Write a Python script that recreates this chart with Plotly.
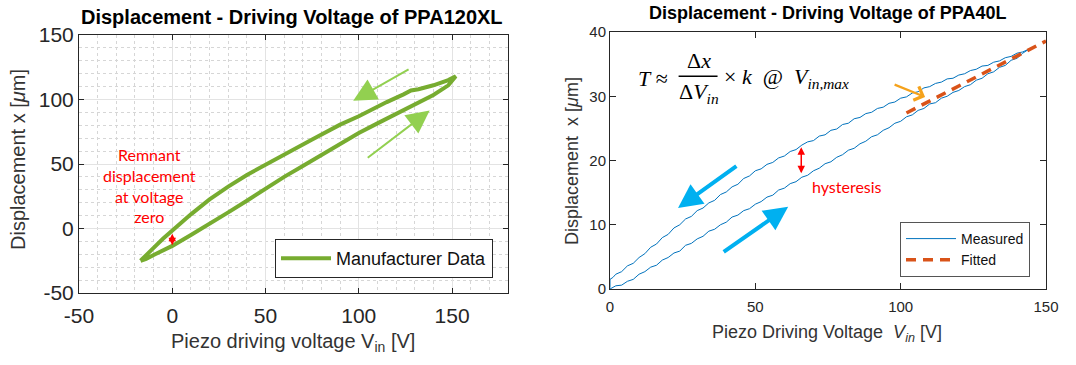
import plotly.graph_objects as go

W, H = 1076, 365

# ---------------- Left chart: PPA120XL (manufacturer data) ----------------
# ascending branch (lower part of the loop)
left_asc_v = [-17, -14, -10, -5, 0, 10, 20, 30, 40, 50, 60, 70, 80, 90, 100, 110, 120, 130, 140, 148, 152]
left_asc_x = [-25, -23.5, -20.5, -17, -13.5, -5, 3.5, 12.5, 21.5, 31, 40, 48.5, 57, 65.5, 74, 81.5, 89, 96, 103.5, 111, 118]
# descending branch (upper part of the loop)
left_desc_v = [152, 148, 140, 132, 128, 124, 115, 100, 90, 75, 60, 50, 40, 30, 20, 10, 5, 0, -5, -10, -14, -17]
left_desc_x = [118, 115, 111, 108, 107, 104, 98, 87, 80.5, 69, 57.5, 50, 41.5, 32.5, 22.5, 11, 5, -1.5, -8, -15, -21, -25]

left_xticks = [-50, 0, 50, 100, 150]
left_xticklabels = ["-50", "0", "50", "100", "150"]
left_yticks = [-50, 0, 50, 100, 150]
left_yticklabels = ["-50", "0", "50", "100", "150"]

# ---------------- Right chart: PPA40L (measured + fitted) ----------------
meas_asc_v = [0, 2, 4, 6, 8, 10, 12, 14, 16, 18, 20, 22, 24, 26, 28, 30, 32, 34, 36, 38, 40,
              42, 44, 46, 48, 50, 52, 54, 56, 58, 60, 62, 64, 66, 68, 70, 72, 74, 76, 78, 80,
              82, 84, 86, 88, 90, 92, 94, 96, 98, 100, 102, 104, 106, 108, 110, 112, 114, 116, 118, 120,
              122, 124, 126, 128, 130, 132, 134, 136, 138, 140, 142, 144]
meas_asc_x = [0.0, 0.5, 0.6, 1.2, 1.5, 2.3, 2.7, 3.4, 3.7, 4.5, 4.9, 5.6, 5.9, 6.8, 7.1, 7.8, 8.2, 9.0, 9.3, 10.0, 10.4,
              11.2, 11.5, 12.2, 12.5, 13.2, 13.6, 14.3, 14.6, 15.4, 15.7, 16.4, 16.7, 17.4, 17.7, 18.4, 18.8, 19.5, 19.8, 20.5, 20.9,
              21.6, 21.9, 22.6, 23.0, 23.7, 24.0, 24.7, 25.1, 25.8, 26.1, 26.8, 27.1, 27.8, 28.1, 28.8, 29.0, 29.7, 30.0, 30.6, 30.9,
              31.5, 31.8, 32.5, 32.8, 33.5, 33.8, 34.5, 34.8, 35.6, 35.9, 36.7, 37.3]
meas_desc_v = [144, 142, 140, 138, 136, 134, 132, 130, 128, 126, 124, 122, 120, 118, 116, 114, 112, 110, 108, 106, 104,
               102, 100, 98, 96, 94, 92, 90, 88, 86, 84, 82, 80, 78, 76, 74, 72, 70, 68, 66, 64,
               62, 60, 58, 56, 54, 52, 50, 48, 46, 44, 42, 40, 38, 36, 34, 32, 30, 28, 26, 24,
               22, 20, 18, 16, 14, 12, 10, 8, 6, 4, 2, 1, 0, 0]
meas_desc_x = [37.3, 36.9, 36.7, 36.2, 36.0, 35.5, 35.3, 34.8, 34.7, 34.2, 34.0, 33.5, 33.3, 32.8, 32.7, 32.2, 32.0, 31.5, 31.3, 30.7, 30.5,
               29.9, 29.7, 29.1, 28.9, 28.3, 28.1, 27.5, 27.3, 26.7, 26.5, 25.8, 25.6, 24.9, 24.7, 24.0, 23.8, 23.1, 22.9, 22.4, 21.7,
               21.4, 20.7, 20.4, 19.7, 19.4, 18.7, 18.4, 17.6, 17.2, 16.3, 15.9, 15.1, 14.7, 13.8, 13.4, 12.6, 12.2, 11.3, 10.9, 10.0,
               9.5, 8.5, 8.0, 7.0, 6.5, 5.5, 4.9, 4.0, 3.6, 2.7, 2.3, 1.8, 1.5, 0.2]
fit_v = [102, 150]
fit_x = [27.4, 38.6]

right_xticks = [0, 50, 100, 150]
right_yticks = [0, 10, 20, 30, 40]

# ---------------- geometry helpers ----------------
def px(x):
    return x / W


def py(y):
    return 1 - y / H


AX = "#262626"
SANS = "Liberation Sans"

fig = go.Figure()

fig.add_trace(go.Scatter(
    x=left_asc_v + left_desc_v, y=left_asc_x + left_desc_x,
    mode="lines", name="Manufacturer Data",
    line=dict(color="#77AC30", width=4), xaxis="x", yaxis="y", legend="legend",
))
fig.add_trace(go.Scatter(
    x=meas_asc_v + meas_desc_v, y=meas_asc_x + meas_desc_x,
    mode="lines", name="Measured",
    line=dict(color="#0072BD", width=1), xaxis="x2", yaxis="y2", legend="legend2",
))
fig.add_trace(go.Scatter(
    x=fit_v, y=fit_x, mode="lines", name="Fitted",
    line=dict(color="#D95319", width=3.5, dash="10px,7px"), xaxis="x2", yaxis="y2", legend="legend2",
))

common_axis = dict(showline=True, mirror="ticks", linecolor=AX, linewidth=1,
                   ticks="inside", tickcolor=AX, zeroline=False, automargin=False)

fig.update_layout(
    width=W, height=H, margin=dict(l=0, r=0, t=0, b=0, pad=0, autoexpand=False),
    paper_bgcolor="white", plot_bgcolor="white",
    font=dict(family=SANS, color=AX),
    xaxis=dict(domain=[px(79), px(508)], range=[-50, 180], anchor="y",
               tickmode="array", tickvals=left_xticks, ticktext=left_xticklabels,
               ticklen=5, tickfont=dict(size=21, color=AX), ticklabelstandoff=4,
               showgrid=True, gridcolor="#e3e3e3", gridwidth=1,
               minor=dict(tick0=-50, dtick=10, showgrid=True, gridcolor="#d6d6d6", griddash="dot", ticks=""),
               **common_axis),
    yaxis=dict(domain=[py(293), py(35)], range=[-50, 150], anchor="x",
               tickmode="array", tickvals=left_yticks, ticktext=left_yticklabels,
               ticklen=5, tickfont=dict(size=21, color=AX),
               showgrid=True, gridcolor="#e3e3e3", gridwidth=1,
               minor=dict(tick0=-50, dtick=10, showgrid=True, gridcolor="#d6d6d6", griddash="dot", ticks=""),
               **common_axis),
    xaxis2=dict(domain=[px(610), px(1046)], range=[0, 150], anchor="y2",
                tickmode="array", tickvals=right_xticks,
                ticklen=6, tickfont=dict(size=15, color=AX), ticklabelstandoff=4, showgrid=False,
                **common_axis),
    yaxis2=dict(domain=[py(289), py(32)], range=[0, 40], anchor="x2",
                tickmode="array", tickvals=right_yticks,
                ticklen=6, tickfont=dict(size=15, color=AX), showgrid=False,
                **common_axis),
    legend=dict(x=px(493), y=py(278), xanchor="right", yanchor="bottom",
                bgcolor="white", bordercolor=AX, borderwidth=1,
                font=dict(size=18, color="#111"), itemwidth=50),
    legend2=dict(x=px(1030), y=py(277), xanchor="right", yanchor="bottom",
                 bgcolor="white", bordercolor="#555", borderwidth=1,
                 font=dict(size=14, color="#111"), tracegroupgap=0, itemwidth=50),
    showlegend=True,
)

ann = []


def text_ann(text, x, y, size, color, xref="paper", yref="paper", xanchor="center",
             family=SANS, angle=0):
    return dict(text=text, x=x, y=y, xref=xref, yref=yref, xanchor=xanchor, yanchor="middle",
                showarrow=False, textangle=angle, font=dict(family=family, size=size, color=color))


def arrow_ann(x, y, ax, ay, xr, yr, color, width, size, head=2, both=False):
    d = dict(x=x, y=y, ax=ax, ay=ay, xref=xr, yref=yr, axref=xr, ayref=yr, text="",
             showarrow=True, arrowhead=head, arrowsize=size, arrowwidth=width, arrowcolor=color,
             standoff=0)
    if both:
        d.update(arrowside="end+start", startarrowhead=head, startarrowsize=size, startstandoff=0)
    return d


# titles
ann.append(text_ann("<b>Displacement - Driving Voltage of PPA120XL</b>", px(292), py(17), 20, "#000"))
ann.append(text_ann("<b>Displacement - Driving Voltage of PPA40L</b>", px(827), py(13), 18, "#000"))
# axis titles
ann.append(text_ann("Piezo driving voltage V<sub>in</sub> [V]", px(293), py(342), 20, "#333"))
ann.append(text_ann("Displacement x [<i>μ</i>m]", px(18), py(160), 20, "#333", angle=-90))
ann.append(text_ann("Piezo Driving Voltage &nbsp;<i>V</i><sub><i>in</i></sub> [V]", px(827), py(333), 18, "#333"))
ann.append(text_ann("Displacement &nbsp;x [<i>μ</i>m]", px(572), py(161), 18, "#333", angle=-90))

# left annotations
ann.append(text_ann("Remnant<br>displacement<br>at voltage<br>zero", -12, 33, 16, "#FF0000",
                    xref="x", yref="y", family="Lato"))
ann.append(arrow_ann(0, -13, 0, -3, "x", "y", "#FF0000", 1.5, 1, both=True))
ann.append(arrow_ann(97, 99, 127.5, 124, "x", "y", "#92D050", 2, 2.3))
ann.append(arrow_ann(138, 91.5, 104, 54, "x", "y", "#92D050", 2, 2.3))

# right annotations
ann.append(arrow_ann(23.4, 12.6, 44, 19.3, "x2", "y2", "#00B0F0", 4, 1.2))
ann.append(arrow_ann(61.3, 12.8, 38.6, 5.6, "x2", "y2", "#00B0F0", 4, 1.2))
ann.append(arrow_ann(108.4, 29.9, 97.4, 31.9, "x2", "y2", "#F5A21B", 2.2, 1.3, head=4))
ann.append(arrow_ann(65.8, 18.0, 65.8, 22.3, "x2", "y2", "#FF0000", 1.5, 1, both=True))
ann.append(text_ann("hysteresis", 81.5, 15.9, 16, "#FF0000", xref="x2", yref="y2", family="Lato"))

# formula
SERIF = "Liberation Serif"
ann.append(text_ann("<i>T</i> ≈", 9.0, 32.8, 22, "#000", xref="x2", yref="y2", xanchor="left", family=SERIF))
ann.append(text_ann("Δ<i>x</i>", 30.5, 35.6, 22, "#000", xref="x2", yref="y2", family=SERIF))
ann.append(text_ann("Δ<i>V</i><sub><i>in</i></sub>", 30.5, 30.5, 22, "#000", xref="x2", yref="y2", family=SERIF))
ann.append(text_ann("× <i>k</i> &nbsp;@ &nbsp;<i>V</i><sub><i>in,max</i></sub>", 38.5, 32.8, 22, "#000",
                    xref="x2", yref="y2", xanchor="left", family=SERIF))

fig.update_layout(annotations=ann)
fig.add_shape(type="line", xref="x2", yref="y2", x0=23.6, x1=37.0, y0=33.1, y1=33.1,
              line=dict(color="#000", width=1.5))

fig.write_html("out.html")
